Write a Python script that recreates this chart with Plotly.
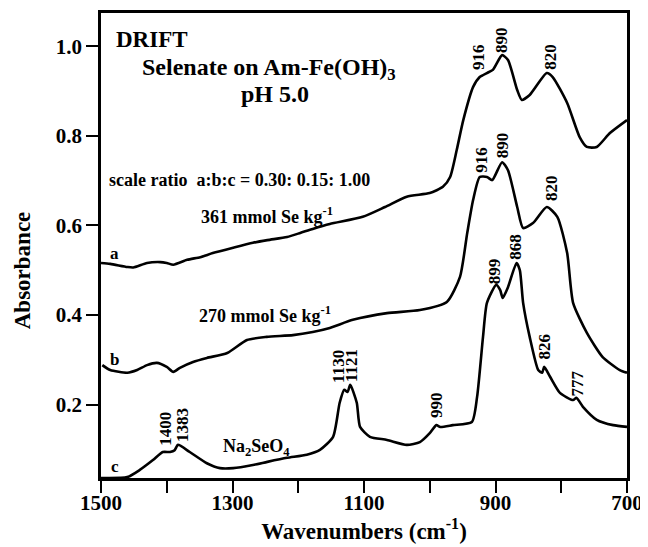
import plotly.graph_objects as go

# ---- data (wavenumber cm-1, absorbance) ----
wn_a = [1500, 1486, 1460, 1451, 1430, 1410, 1400, 1390, 1369, 1349, 1330, 1299, 1269, 1247, 1217, 1197,
        1178, 1152, 1102, 1068, 1035, 1000, 980, 969, 959, 949, 934, 924, 913, 904, 890, 881, 867, 860,
        848, 822, 813, 791, 772, 761, 746, 726, 700]
abs_a = [0.516, 0.514, 0.507, 0.506, 0.516, 0.518, 0.516, 0.512, 0.523, 0.529, 0.538, 0.550, 0.561, 0.567,
         0.574, 0.583, 0.592, 0.603, 0.619, 0.641, 0.664, 0.672, 0.686, 0.708, 0.768, 0.835, 0.909, 0.931,
         0.940, 0.947, 0.980, 0.969, 0.902, 0.880, 0.891, 0.940, 0.931, 0.873, 0.797, 0.775, 0.775, 0.806,
         0.835]

wn_b = [1498, 1486, 1460, 1445, 1430, 1415, 1400, 1390, 1380, 1360, 1339, 1308, 1278, 1248, 1208, 1178,
        1152, 1117, 1065, 1015, 974, 954, 943, 934, 924, 913, 905, 890, 881, 867, 858, 843, 822, 806,
        791, 782, 761, 737, 711, 700]
abs_b = [0.288, 0.277, 0.271, 0.277, 0.288, 0.293, 0.284, 0.273, 0.282, 0.295, 0.304, 0.315, 0.344, 0.351,
         0.355, 0.362, 0.371, 0.389, 0.404, 0.411, 0.429, 0.485, 0.583, 0.657, 0.708, 0.708, 0.701, 0.741,
         0.723, 0.641, 0.594, 0.605, 0.641, 0.619, 0.538, 0.427, 0.360, 0.306, 0.277, 0.271]

wn_c = [1500, 1460, 1441, 1421, 1406, 1395, 1388, 1383, 1365, 1339, 1319, 1299, 1269, 1247, 1217, 1187,
        1167, 1147, 1137, 1130, 1125, 1121, 1111, 1106, 1091, 1065, 1035, 1015, 1000, 990, 984, 965, 936,
        928, 919, 913, 899, 893, 889, 881, 868, 863, 858, 848, 835, 829, 826, 817, 802, 782, 777, 767,
        746, 721, 700]
abs_c = [0.036, 0.038, 0.054, 0.076, 0.094, 0.094, 0.098, 0.110, 0.094, 0.069, 0.058, 0.058, 0.065, 0.072,
         0.081, 0.088, 0.099, 0.128, 0.204, 0.233, 0.228, 0.244, 0.204, 0.150, 0.128, 0.121, 0.110, 0.116,
         0.136, 0.154, 0.150, 0.154, 0.161, 0.217, 0.351, 0.427, 0.467, 0.456, 0.438, 0.462, 0.516, 0.500,
         0.427, 0.351, 0.277, 0.271, 0.284, 0.262, 0.226, 0.210, 0.215, 0.195, 0.166, 0.154, 0.150]

x_tick_vals = [1500, 1300, 1100, 900, 700]
x_tick_text = ["1500", "1300", "1100", "900", "700"]
x_minor_vals = [1400, 1200, 1000, 800]
y_tick_vals = [0.2, 0.4, 0.6, 0.8, 1.0]
y_tick_text = ["0.2", "0.4", "0.6", "0.8", "1.0"]

peak_text = ["916", "890", "820", "916", "890", "820", "899", "868", "826", "777",
             "1400", "1383", "1130", "1121", "990"]
peak_x = [925, 890, 816, 921, 890, 816, 902, 869, 825, 775, 1401, 1377, 1138, 1120, 989]
peak_y = [0.976, 1.014, 0.976, 0.746, 0.779, 0.683, 0.498, 0.552, 0.329, 0.246, 0.146, 0.154, 0.284,
          0.288, 0.199]

SERIF = "Liberation Serif"

fig = go.Figure()
for wn, ab in [(wn_a, abs_a), (wn_b, abs_b), (wn_c, abs_c)]:
    fig.add_trace(go.Scatter(x=wn, y=ab, mode="lines",
                             line=dict(color="black", width=2.6, shape="spline", smoothing=0.6),
                             showlegend=False, hoverinfo="skip"))

ann = []
for t, x, y in zip(peak_text, peak_x, peak_y):
    ann.append(dict(x=x, y=y, text=t, textangle=-90, showarrow=False,
                    font=dict(size=17, family=SERIF, color="black", weight="bold"),
                    xanchor="center", yanchor="middle"))

def txt(x, y, s, size, xanchor="center"):
    return dict(x=x, y=y, text=s, showarrow=False, xanchor=xanchor, yanchor="middle",
                font=dict(size=size, family=SERIF, color="black", weight="bold"))

ann += [
    txt(1422, 1.014, "DRIFT", 23),
    txt(1244, 0.948, "Selenate on Am-Fe(OH)<sub>3</sub>", 24),
    txt(1235, 0.893, "pH 5.0", 24),
    txt(1290, 0.701, "scale ratio  a:b:c = 0.30: 0.15: 1.00", 18),
    txt(1247, 0.622, "361 mmol Se kg<sup>-1</sup>", 18),
    txt(1250, 0.400, "270 mmol Se kg<sup>-1</sup>", 18),
    txt(1479, 0.538, "a", 17),
    txt(1479, 0.300, "b", 17),
    txt(1479, 0.061, "c", 17),
    txt(1263, 0.103, "Na<sub>2</sub>SeO<sub>4</sub>", 18),
]
# the page places the figure 8 px in from the top-left corner
ann.append(dict(xref="paper", yref="paper", x=-0.15, y=0.447, text="Absorbance", textangle=-90,
                showarrow=False, xanchor="center", yanchor="middle",
                font=dict(size=23, family=SERIF, color="black", weight="bold")))

fig.update_layout(
    width=640, height=539,
    margin=dict(l=93, r=21, t=5, b=69),
    paper_bgcolor="white", plot_bgcolor="white",
    font=dict(family=SERIF, color="black", size=20, weight="bold"),
    annotations=ann,
    xaxis=dict(range=[1500, 700], tickvals=x_tick_vals, ticktext=x_tick_text,
               ticks="outside", ticklen=12, tickwidth=2, tickcolor="black",
               minor=dict(tickvals=x_minor_vals, ticks="outside", ticklen=12, tickwidth=2,
                          tickcolor="black", showgrid=False),
               ticklabelstandoff=-8,
               showline=True, linecolor="black", linewidth=2.5, mirror=True,
               showgrid=False, zeroline=False, automargin=False,
               tickfont=dict(size=21, family=SERIF, weight="bold"),
               title=dict(text="Wavenumbers (cm<sup>-1</sup>)", standoff=0,
                          font=dict(size=23, family=SERIF, weight="bold"))),
    yaxis=dict(range=[0.036, 1.074], tickvals=y_tick_vals, ticktext=y_tick_text,
               ticks="outside", ticklen=12, tickwidth=2, tickcolor="black",
               showline=True, linecolor="black", linewidth=2.5, mirror=True,
               showgrid=False, zeroline=False, automargin=False,
               tickfont=dict(size=21, family=SERIF, weight="bold")),
)

fig.write_html("out.html")
